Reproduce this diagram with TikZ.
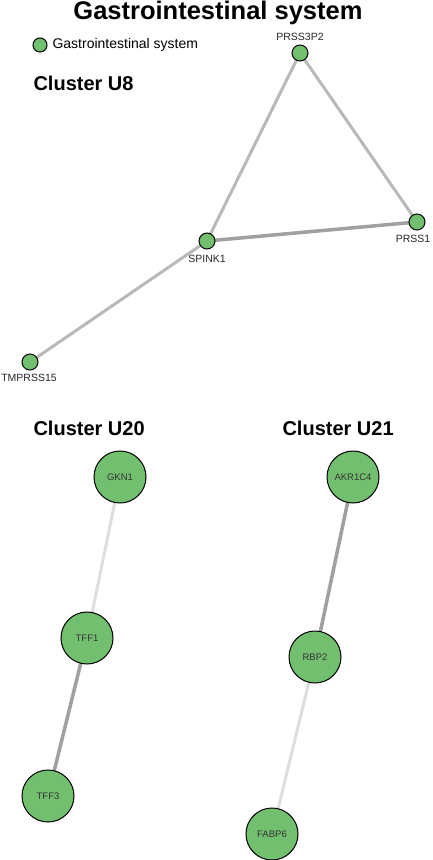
\documentclass[tikz,border=0pt]{standalone}
\usepackage{fontspec}
\setmainfont{Liberation Sans}
\usetikzlibrary{backgrounds}
\definecolor{nodegreen}{RGB}{114,192,111}
\definecolor{edgemid}{RGB}{185,185,185}
\definecolor{edgedark}{RGB}{160,160,160}
\definecolor{edgelight}{RGB}{222,222,222}
\begin{document}
\begin{tikzpicture}[x=1pt,y=-1pt,
  smallnode/.style={circle,draw=black,line width=1pt,fill=nodegreen,minimum size=16pt,inner sep=0pt},
  bignode/.style={circle,draw=black,line width=1pt,fill=nodegreen,minimum size=52pt,inner sep=0pt,font=\fontsize{9.5}{9.5}\selectfont,text=black!80},
  smalllabel/.style={font=\fontsize{10.5}{10.5}\selectfont,text=black!85},
  clusterlabel/.style={font=\fontsize{20}{20}\selectfont\bfseries,anchor=west},
  edgeA/.style={draw=edgemid,line width=3pt},
  edgeB/.style={draw=edgedark,line width=3.5pt},
  edgeC/.style={draw=edgelight,line width=3pt}
]
\useasboundingbox (0,0) rectangle (433,860);

\node[font=\fontsize{25.5}{25.5}\selectfont\bfseries] (title) at (218,13) {Gastrointestinal system};
\node[circle,draw=black,line width=1pt,fill=nodegreen,minimum size=14pt,inner sep=0pt] (legdot) at (40,45) {};
\node[font=\fontsize{14}{14}\selectfont,anchor=west] (legtext) at (49,45) {Gastrointestinal system};

\node[clusterlabel] (cu8) at (30,83) {Cluster U8};
\node[clusterlabel] (cu20) at (30,428) {Cluster U20};
\node[clusterlabel] (cu21) at (279,428) {Cluster U21};

% Cluster U8
\node[smallnode] (prss3p2) at (300,53) {};
\node[smallnode] (prss1) at (417,222) {};
\node[smallnode] (spink1) at (207,241) {};
\node[smallnode] (tmprss15) at (30,362) {};
\node[smalllabel] (lprss3p2) at (300,37) {PRSS3P2};
\node[smalllabel] (lprss1) at (413,239) {PRSS1};
\node[smalllabel] (lspink1) at (207,259) {SPINK1};
\node[smalllabel] (ltmprss15) at (29,378) {TMPRSS15};

% Cluster U20
\node[bignode] (gkn1) at (120,477) {GKN1};
\node[bignode] (tff1) at (87,638) {TFF1};
\node[bignode] (tff3) at (48,796) {TFF3};

% Cluster U21
\node[bignode] (akr1c4) at (353,477) {AKR1C4};
\node[bignode] (rbp2) at (315,657) {RBP2};
\node[bignode] (fabp6) at (272,834) {FABP6};

\begin{pgfonlayer}{background}
\fill[white] (0,0) rectangle (433,860);
\path[edgeA] (prss3p2.center) -- (spink1.center);
\path[edgeA] (prss3p2.center) -- (prss1.center);
\path[edgeB] (spink1.center) -- (prss1.center);
\path[edgeA] (spink1.center) -- (tmprss15.center);
\path[edgeC] (gkn1.center) -- (tff1.center);
\path[edgeB] (tff1.center) -- (tff3.center);
\path[edgeB] (akr1c4.center) -- (rbp2.center);
\path[edgeC] (rbp2.center) -- (fabp6.center);
\end{pgfonlayer}
\end{tikzpicture}
\end{document}
